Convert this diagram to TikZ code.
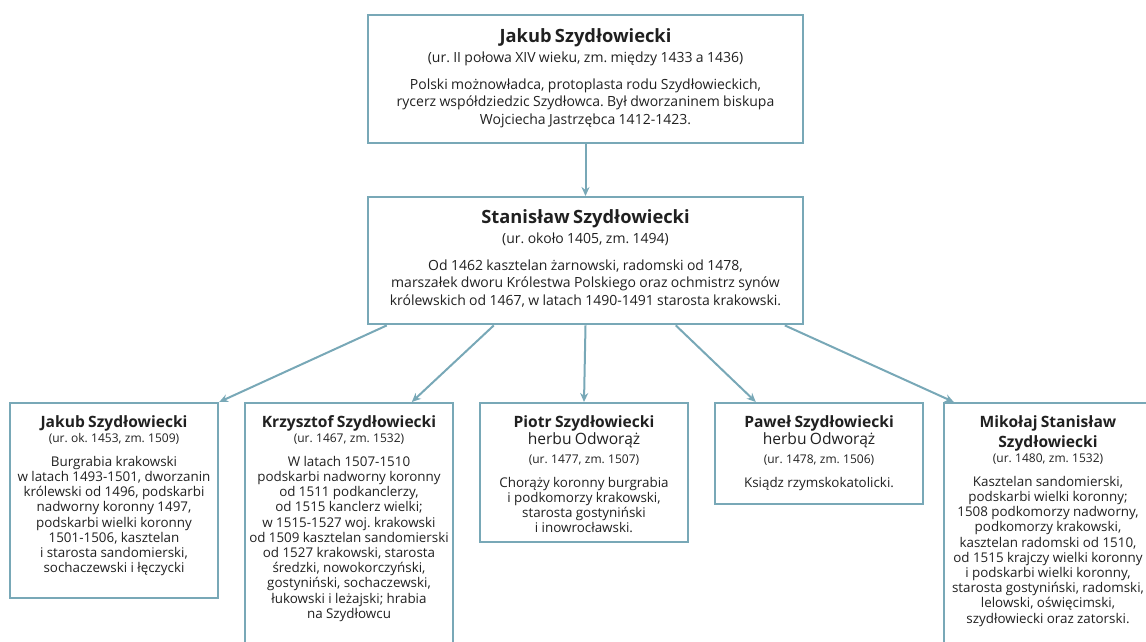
\documentclass[tikz,border=0pt]{standalone}
\usepackage{fontspec}
\setmainfont{Open Sans}
\usetikzlibrary{arrows.meta}
\frenchspacing

\definecolor{ramka}{HTML}{78A8B7}
\definecolor{tekst}{HTML}{202020}

% duze ramki (gora)
\newcommand{\tytul}[1]{{\fontsize{18.3}{20}\selectfont\bfseries #1\par}}
\newcommand{\daty}[1]{{\fontsize{14}{20}\selectfont #1\par}}
\newcommand{\opis}[1]{\vspace{9.3pt}{\fontsize{14}{17.7}\selectfont #1\par}}
% male ramki (dol)
\newcommand{\tytulm}[1]{{\fontsize{15.6}{20}\selectfont\bfseries #1\par}}
\newcommand{\herb}[1]{{\fontsize{15.6}{17}\selectfont #1\par}\vspace{4pt}}
\newcommand{\datym}[1]{{\fontsize{12}{15}\selectfont #1\par}}
\newcommand{\opism}[1]{\vspace{8.8pt}{\fontsize{13.4}{15.2}\selectfont #1\par}}

\begin{document}
\begin{tikzpicture}[x=1pt,y=-1pt]
  \tikzstyle{every node}=[draw=ramka,line width=2.4pt,text=tekst,align=center,inner ysep=0pt,anchor=north]
  \tikzstyle{duza}=[text width=435pt,inner xsep=0pt,text height=27pt,text depth=101pt]
  \tikzstyle{mala}=[text width=220pt,inner xsep=-6pt,text height=24pt]
  \tikzstyle{strzalka}=[draw=ramka,line width=2pt,-{Stealth[length=9pt,width=8pt]}]
  \useasboundingbox (0,0) rectangle (1146,641);
  \clip (0,0) rectangle (1146,641);

  \node[duza] (jakub) at (585.5,14) {%
    \tytul{Jakub Szydłowiecki}%
    \daty{(ur. II połowa XIV wieku, zm. między 1433 a 1436)}%
    \opis{Polski możnowładca, protoplasta rodu Szydłowieckich,\\
      rycerz współdziedzic Szydłowca. Był dworzaninem biskupa\\
      Wojciecha Jastrzębca 1412-1423.}};

  \node[duza,text height=26pt] (stanislaw) at (585.5,196) {%
    \tytul{Stanisław Szydłowiecki}%
    \daty{(ur. około 1405, zm. 1494)}%
    \opis{Od 1462 kasztelan żarnowski, radomski od 1478,\\
      marszałek dworu Królestwa Polskiego oraz ochmistrz synów\\
      królewskich od 1467, w latach 1490-1491 starosta krakowski.}};

  \node[mala,text depth=171pt] (jakubm) at (114,402) {%
    \tytulm{Jakub Szydłowiecki}%
    \datym{(ur. ok. 1453, zm. 1509)}%
    \opism{Burgrabia krakowski\\
      w latach 1493-1501, dworzanin\\
      królewski od 1496, podskarbi\\
      nadworny koronny 1497,\\
      podskarbi wielki koronny\\
      1501-1506, kasztelan\\
      i starosta sandomierski,\\
      sochaczewski i łęczycki}};

  \node[mala,text depth=250pt] (krzysztof) at (349,402) {%
    \tytulm{Krzysztof Szydłowiecki}%
    \datym{(ur. 1467, zm. 1532)}%
    \opism{W latach 1507-1510\\
      podskarbi nadworny koronny\\
      od 1511 podkanclerzy,\\
      od 1515 kanclerz wielki;\\
      w 1515-1527 woj. krakowski\\
      od 1509 kasztelan sandomierski\\
      od 1527 krakowski, starosta\\
      średzki, nowokorczyński,\\
      gostyniński, sochaczewski,\\
      łukowski i leżajski; hrabia\\
      na Szydłowcu}};

  \node[mala,text depth=115pt] (piotr) at (584,402) {%
    \tytulm{Piotr Szydłowiecki}%
    \herb{herbu Odworąż}%
    \datym{(ur. 1477, zm. 1507)}%
    \opism{Chorąży koronny burgrabia\\
      i podkomorzy krakowski,\\
      starosta gostyniński\\
      i inowrocławski.}};

  \node[mala,text depth=77pt] (pawel) at (819,402) {%
    \tytulm{Paweł Szydłowiecki}%
    \herb{herbu Odworąż}%
    \datym{(ur. 1478, zm. 1506)}%
    \opism{Ksiądz rzymskokatolicki.}};

  \node[mala,text depth=250pt] (mikolaj) at (1048,402) {%
    \tytulm{Mikołaj Stanisław\\Szydłowiecki}%
    \datym{(ur. 1480, zm. 1532)}%
    \opism{Kasztelan sandomierski,\\
      podskarbi wielki koronny;\\
      1508 podkomorzy nadworny,\\
      podkomorzy krakowski,\\
      kasztelan radomski od 1510,\\
      od 1515 krajczy wielki koronny\\
      i podskarbi wielki koronny,\\
      starosta gostyniński, radomski,\\
      lelowski, oświęcimski,\\
      szydłowiecki oraz zatorski.}};

  % strzalki
  \draw[strzalka] (jakub) -- (stanislaw);
  \draw[strzalka] ([xshift=20pt]stanislaw.south west) -- (jakubm.north east);
  \draw[strzalka] ([xshift=127pt]stanislaw.south west) -- ([xshift=168pt]krzysztof.north west);
  \draw[strzalka] (stanislaw.south) -- (piotr.north);
  \draw[strzalka] ([xshift=309pt]stanislaw.south west) -- ([xshift=42pt]pawel.north west);
  \draw[strzalka] ([xshift=418pt]stanislaw.south west) -- ([xshift=11pt]mikolaj.north west);
\end{tikzpicture}
\end{document}
